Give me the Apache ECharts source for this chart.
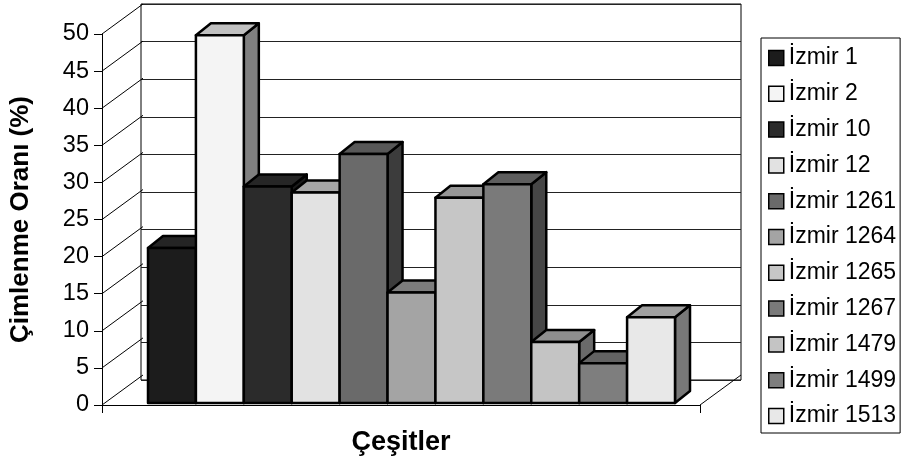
<!DOCTYPE html>
<html>
<head>
<meta charset="utf-8">
<script src="https://cdn.jsdelivr.net/npm/echarts@6/dist/echarts.min.js"></script>
<style>
  html, body { margin: 0; padding: 0; background: #fff; }
  #chart { width: 907px; height: 461px; }
</style>
</head>
<body>
<div id="chart"></div>
<script>
// cesit isimleri ve cimlenme oranlari (%)
const varieties = ['İzmir 1', 'İzmir 2', 'İzmir 10', 'İzmir 12', 'İzmir 1261', 'İzmir 1264',
  'İzmir 1265', 'İzmir 1267', 'İzmir 1479', 'İzmir 1499', 'İzmir 1513']
const rates = [20.6, 48.9, 28.8, 28.0, 33.1, 14.7, 27.3, 29.1, 8.1, 5.3, 11.4]
const yTicks = [0, 5, 10, 15, 20, 25, 30, 35, 40, 45, 50]

// gri tonlar: on yuz, ust yuz, yan yuz
const frontColors = ['#1c1c1c', '#f4f4f4', '#2b2b2b', '#e2e2e2', '#6a6a6a', '#a4a4a4',
  '#c6c6c6', '#7a7a7a', '#c4c4c4', '#7e7e7e', '#e8e8e8']
const topColors = ['#242424', '#c0c0c0', '#262626', '#a6a6a6', '#585858', '#7c7c7c',
  '#969696', '#5e5e5e', '#8e8e8e', '#626262', '#a0a0a0']
const sideColors = ['#141414', '#808080', '#1a1a1a', '#777777', '#3c3c3c', '#5c5c5c',
  '#6e6e6e', '#464646', '#6a6a6a', '#4a4a4a', '#787878']

const FONT = 'Liberation Sans'
const BAR_DX = 15
const BAR_DY = -12
const WALL_DX = 41
const WALL_DY = -30

const chart = echarts.init(document.getElementById('chart'), null, { renderer: 'canvas' })

function barItem (idx) {
  return function (params, api) {
    const i = api.value(0)
    const v = api.value(1)
    const base = api.coord([i, 0])
    const top = api.coord([i, v])
    const w = api.size([1, 0])[0]
    const l = base[0] - w / 2
    const r = base[0] + w / 2
    const line = { stroke: '#000', lineWidth: 2.5, lineJoin: 'round' }
    return {
      type: 'group',
      children: [
        {
          type: 'polygon',
          shape: { points: [[r, top[1]], [r + BAR_DX, top[1] + BAR_DY], [r + BAR_DX, base[1] + BAR_DY], [r, base[1]]] },
          style: Object.assign({ fill: sideColors[idx] }, line)
        },
        {
          type: 'polygon',
          shape: { points: [[l, top[1]], [r, top[1]], [r + BAR_DX, top[1] + BAR_DY], [l + BAR_DX, top[1] + BAR_DY]] },
          style: Object.assign({ fill: topColors[idx] }, line)
        },
        {
          type: 'rect',
          shape: { x: l, y: top[1], width: w, height: base[1] - top[1] },
          style: Object.assign({ fill: frontColors[idx] }, line)
        }
      ]
    }
  }
}

const barSeries = varieties.map((name, idx) => ({
  name: name,
  type: 'custom',
  xAxisIndex: 2,
  yAxisIndex: 2,
  z: 5,
  itemStyle: { color: frontColors[idx], borderColor: '#000', borderWidth: 1.5 },
  renderItem: barItem(idx),
  data: [[idx, rates[idx]]]
}))

// sol duvar cizgileri (on eksenden arka duvara)
const wallSeries = {
  type: 'custom',
  xAxisIndex: 0,
  yAxisIndex: 0,
  silent: true,
  z: 1,
  renderItem: function (params, api) {
    const p = api.coord([api.value(0), api.value(1)])
    return {
      type: 'line',
      shape: { x1: p[0], y1: p[1], x2: p[0] + WALL_DX, y2: p[1] + WALL_DY },
      style: { stroke: '#000', lineWidth: 1 }
    }
  },
  data: yTicks.map(t => [0, t]).concat([[1, 0]])
}

chart.setOption({
  animation: false,
  textStyle: { fontFamily: FONT, color: '#000' },
  legend: {
    orient: 'vertical',
    left: 761,
    top: 38,
    data: varieties,
    icon: 'rect',
    itemWidth: 15,
    itemHeight: 15,
    itemGap: 11.8,
    padding: [8, 4, 5, 7],
    borderColor: '#000',
    borderWidth: 1,
    itemStyle: { borderColor: '#000', borderWidth: 1.5 },
    textStyle: { fontFamily: FONT, fontSize: 23, color: '#000', lineHeight: 24 }
  },
  grid: [
    // on eksen duzlemi
    { left: 100, top: 34, width: 600, height: 376 },
    // arka duvar
    { left: 141, top: 4, width: 600, height: 376, show: true, borderColor: '#000', borderWidth: 1 },
    // cubuklarin duzlemi
    { left: 148, top: 27, width: 527, height: 376 }
  ],
  xAxis: [
    {
      gridIndex: 0,
      type: 'value',
      min: 0,
      max: 1,
      interval: 1,
      name: 'Çeşitler',
      nameLocation: 'middle',
      nameGap: 24,
      nameTextStyle: { fontFamily: FONT, fontSize: 27, fontWeight: 'bold', color: '#000' },
      axisLine: { show: true, lineStyle: { color: '#000', width: 1 } },
      axisTick: { show: true, length: 8, lineStyle: { color: '#000' } },
      axisLabel: { show: false },
      splitLine: { show: false }
    },
    { gridIndex: 1, type: 'value', min: 0, max: 1, show: false },
    { gridIndex: 2, type: 'category', data: varieties, show: false }
  ],
  yAxis: [
    {
      gridIndex: 0,
      type: 'value',
      min: 0,
      max: 50,
      interval: 5,
      name: 'Çimlenme Oranı (%)',
      nameLocation: 'middle',
      nameGap: 68,
      nameTextStyle: { fontFamily: FONT, fontSize: 26, fontWeight: 'bold', color: '#000' },
      axisLine: { show: true, lineStyle: { color: '#000', width: 1 } },
      axisTick: { show: true, length: 8, lineStyle: { color: '#000' } },
      axisLabel: { fontFamily: FONT, fontSize: 23.5, color: '#000', margin: 13 },
      splitLine: { show: false }
    },
    {
      gridIndex: 1,
      type: 'value',
      min: 0,
      max: 50,
      interval: 5,
      axisLine: { show: false },
      axisTick: { show: false },
      axisLabel: { show: false },
      splitLine: { show: true, lineStyle: { color: '#222', width: 1 } }
    },
    { gridIndex: 2, type: 'value', min: 0, max: 50, show: false }
  ],
  series: [wallSeries].concat(barSeries)
})
</script>
</body>
</html>
